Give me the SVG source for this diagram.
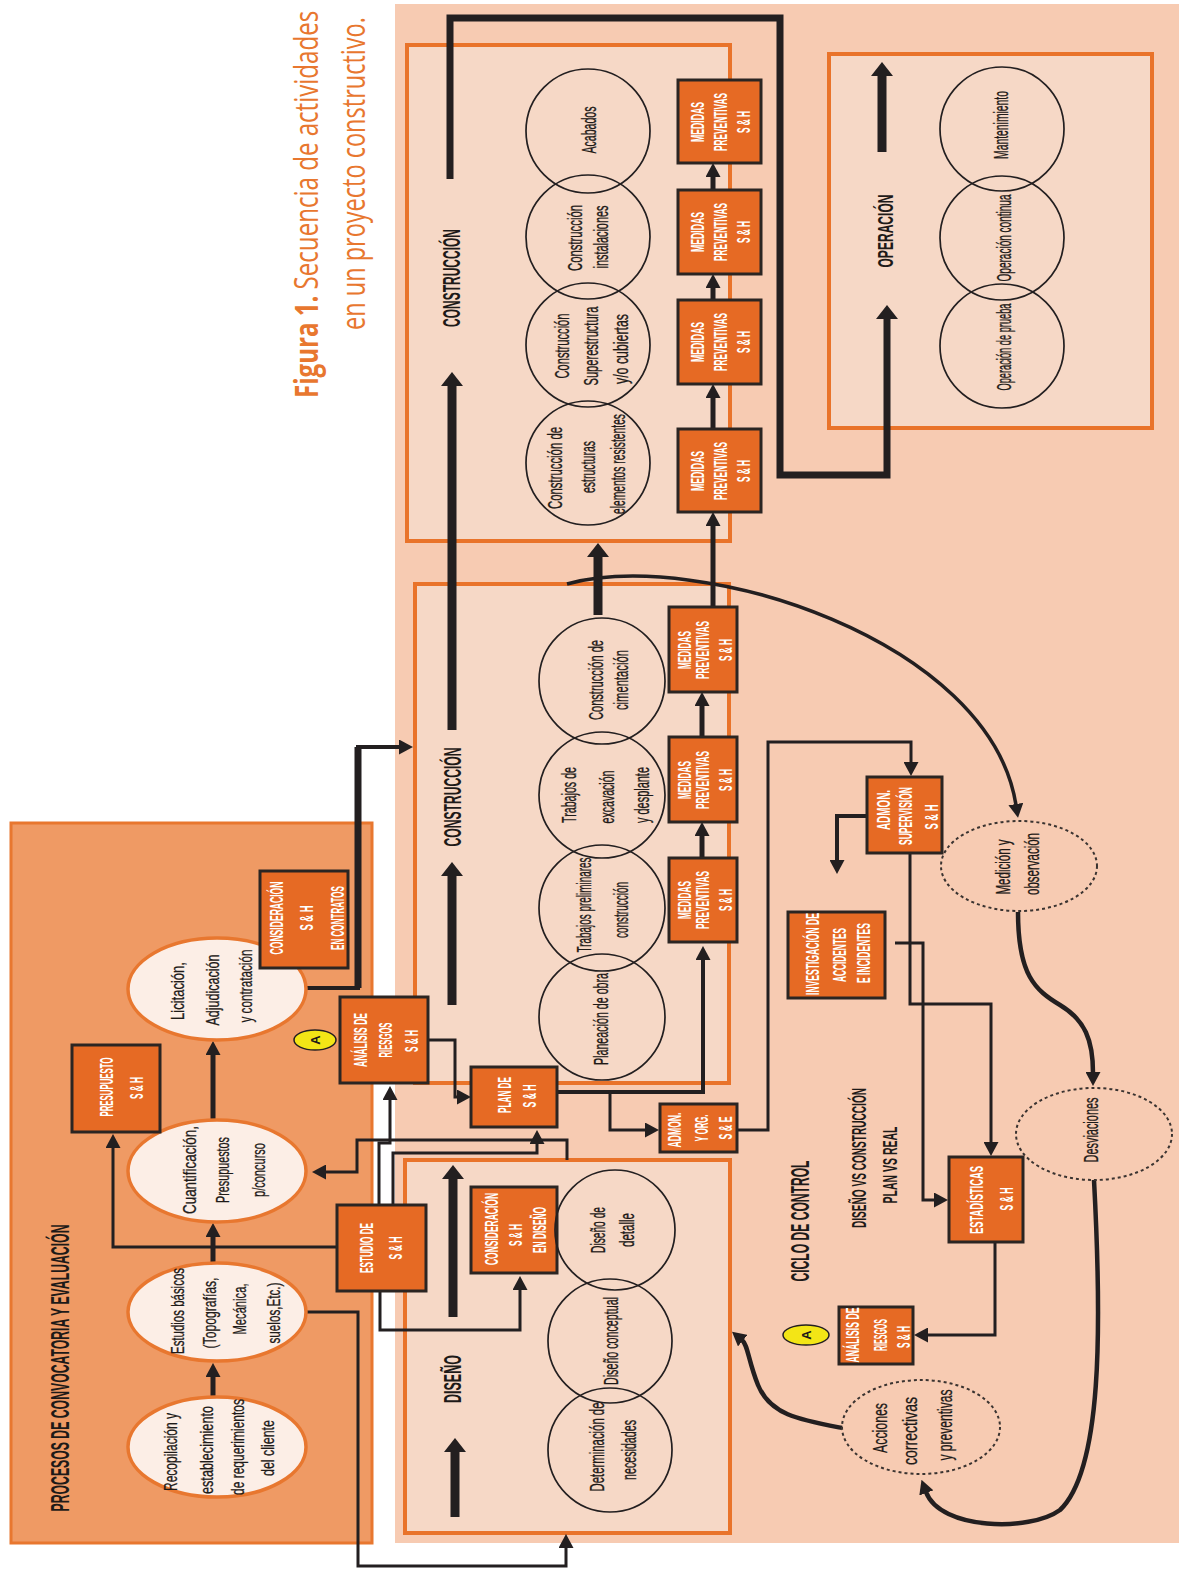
<svg xmlns="http://www.w3.org/2000/svg" width="1179" height="1569" viewBox="0 0 1179 1569">
<defs>
<style>
.bg{fill:#F7CBB2}
.lp{fill:#EF9A64;stroke:#E8772F;stroke-width:3}
.ph{fill:#F6D8C6;stroke:#E9732A;stroke-width:4}
.box{fill:#E66A24;stroke:#2B2522;stroke-width:3}
.ell{fill:#FCEEE6;stroke:#E8772F;stroke-width:3.5}
.cir{fill:none;stroke:#231F20;stroke-width:1.7}
.dsh{fill:none;stroke:#3A3330;stroke-width:2;stroke-dasharray:3 3}
.ya{fill:#F3E516;stroke:#231F20;stroke-width:1.5}
.ln{fill:none;stroke:#231F20;stroke-width:3}
.l4{fill:none;stroke:#231F20;stroke-width:4}
.lm{fill:none;stroke:#231F20;stroke-width:5}
.lt{fill:none;stroke:#231F20;stroke-width:9}
.l7{fill:none;stroke:#231F20;stroke-width:7}
.cv{fill:none;stroke:#231F20;stroke-width:4.5}
text{font-family:"Liberation Sans",Arial,sans-serif;text-anchor:middle;dominant-baseline:central}
.bt{fill:#fff;font-weight:bold;font-size:18px}
.ct{fill:#1E1A18;font-size:21px;stroke:#1E1A18;stroke-width:0.35}
.dt{fill:#1E1A18;font-size:20px;stroke:#1E1A18;stroke-width:0.3}
.et{fill:#1E1A18;font-size:19px;stroke:#1E1A18;stroke-width:0.3}
.hd{fill:#1E1A18;font-weight:bold;font-size:24px}
.at{fill:#1E1A18;font-weight:bold;font-size:13px}
.ti{fill:#E8772F;font-family:"Open Sans","Liberation Sans",sans-serif;font-size:33px;text-anchor:start;dominant-baseline:alphabetic}
</style>
<marker id="a" markerUnits="userSpaceOnUse" markerWidth="14" markerHeight="15" refX="1" refY="7.5" orient="auto"><path d="M0,0 L14,7.5 L0,15 z" fill="#231F20"/></marker>
<marker id="b" markerUnits="userSpaceOnUse" markerWidth="14" markerHeight="22" refX="1" refY="11" orient="auto"><path d="M0,0 L14,11 L0,22 z" fill="#231F20"/></marker>
</defs>

<rect class="bg" x="395" y="4" width="784" height="1539"/>

<g id="title">
<text class="ti" transform="translate(318 398) rotate(-90) scale(0.73 1)"><tspan font-weight="bold">Figura 1.</tspan> Secuencia de actividades</text>
<text class="ti" transform="translate(365 330) rotate(-90) scale(0.713 1)">en un proyecto constructivo.</text>
</g>

<g id="panel-procesos">
<rect class="lp" x="11" y="823" width="361" height="720"/>
<text class="hd" style="font-size:26px" transform="translate(60 1368) rotate(-90)" textLength="287" lengthAdjust="spacingAndGlyphs">PROCESOS DE CONVOCATORIA Y EVALUACIÓN</text>
</g>

<g id="fase-construccion-2">
<rect class="ph" x="407" y="45" width="323" height="496"/>
<text class="hd" transform="translate(451 278) rotate(-90)" textLength="98" lengthAdjust="spacingAndGlyphs">CONSTRUCCIÓN</text>
</g>
<g id="fase-construccion-1">
<rect class="ph" x="415" y="584" width="314" height="499"/>
<text class="hd" transform="translate(452 797) rotate(-90)" textLength="99" lengthAdjust="spacingAndGlyphs">CONSTRUCCIÓN</text>
</g>
<g id="fase-diseno">
<rect class="ph" x="405" y="1160" width="325" height="373"/>
<text class="hd" transform="translate(452 1379) rotate(-90)" textLength="48" lengthAdjust="spacingAndGlyphs">DISEÑO</text>
</g>
<g id="fase-operacion">
<rect class="ph" x="829" y="54" width="323" height="374"/>
<text class="hd" style="font-size:22px" transform="translate(885 231) rotate(-90)" textLength="73" lengthAdjust="spacingAndGlyphs">OPERACIÓN</text>
</g>
<g id="ciclo-control">
<text class="hd" style="font-size:25px" transform="translate(800 1221) rotate(-90)" textLength="121" lengthAdjust="spacingAndGlyphs">CICLO DE CONTROL</text>
<text class="hd" style="font-size:21px" transform="translate(858 1158) rotate(-90)" textLength="140" lengthAdjust="spacingAndGlyphs">DISEÑO VS CONSTRUCCIÓN</text>
<text class="hd" style="font-size:21px" transform="translate(889 1165) rotate(-90)" textLength="77" lengthAdjust="spacingAndGlyphs">PLAN VS REAL</text>
</g>

<g id="connectors">
<path class="ln" d="M337,1247 H113 V1147" marker-end="url(#a)"/>
<path class="ln" d="M379,1205 V1143 H390 V1099" marker-end="url(#a)"/>
<path class="ln" d="M567,1160 V1140 H357 V1172 H325" marker-end="url(#a)"/>
<path class="ln" d="M393,1205 V1153 H537 V1143" marker-end="url(#a)"/>
<path class="ln" d="M380,1291 V1330 H520 V1289" marker-end="url(#a)"/>
<path class="ln" d="M428,1040 H455 V1097 H458" marker-end="url(#a)"/>
<path class="ln" d="M307,1312 H358 V1566 H566 V1547" marker-end="url(#a)"/>
<path class="l4" d="M558,1092 H703 V959" marker-end="url(#a)"/>
<path class="ln" d="M610,1092 V1130 H646" marker-end="url(#a)"/>
<path class="ln" d="M738,1130 H768 V742 H911 V763" marker-end="url(#a)"/>
<path class="l4" d="M867,816 H837 V861" marker-end="url(#a)"/>
<path class="ln" d="M910,853 V1004 H991 V1143" marker-end="url(#a)"/>
<path class="ln" d="M895,943 H923 V1200 H935" marker-end="url(#a)"/>
<path class="ln" d="M995,1242 V1335 H927" marker-end="url(#a)"/>
<path class="l4" d="M307,988 H358 V747 H400" marker-end="url(#a)"/>
<path class="l7" d="M358,988 V747"/>
<path class="lm" d="M213,1396 V1376" marker-end="url(#a)"/>
<path class="lm" d="M213,1262 V1236" marker-end="url(#a)"/>
<path class="lm" d="M213,1120 V1054" marker-end="url(#a)"/>
<path class="lm" d="M702,858 V835" marker-end="url(#a)"/>
<path class="lm" d="M702,737 V705" marker-end="url(#a)"/>
<path class="lm" d="M713,607 V525" marker-end="url(#a)"/>
<path class="lm" d="M713,429 V397" marker-end="url(#a)"/>
<path class="lm" d="M713,300 V287" marker-end="url(#a)"/>
<path class="lm" d="M713,190 V176" marker-end="url(#a)"/>
<path class="lt" d="M455,1517 V1451" marker-end="url(#b)"/>
<path class="lt" d="M453,1317 V1178" marker-end="url(#b)"/>
<path class="lt" d="M452,1005 V875" marker-end="url(#b)"/>
<path class="lt" d="M452,730 V385" marker-end="url(#b)"/>
<path class="lt" d="M598,615 V556" marker-end="url(#b)"/>
<path class="lt" d="M882,152 V75" marker-end="url(#b)"/>
<path class="l7" d="M450,179 V18 H780 V475 H887 V318" marker-end="url(#b)"/>
<path class="cv" style="stroke-width:3.5" d="M567,584 C700,548 990,640 1016,805" marker-end="url(#a)"/>
<path class="cv" d="M1018,912 C1018,975 1035,990 1060,1005 C1085,1020 1093,1040 1093,1073" marker-end="url(#a)"/>
<path class="cv" d="M1094,1180 C1102,1330 1102,1470 1060,1510 C1030,1532 940,1530 926,1492" marker-end="url(#a)"/>
<path class="cv" d="M842,1428 C800,1420 770,1415 758,1385 C748,1360 748,1345 742,1340" marker-end="url(#a)"/>
</g>

<g id="e-recopilacion">
<ellipse class="ell" cx="217" cy="1447" rx="89" ry="50"/>
<text class="et" transform="translate(170 1452) rotate(-90)" textLength="78" lengthAdjust="spacingAndGlyphs">Recopilación y</text>
<text class="et" transform="translate(206 1450) rotate(-90)" textLength="88" lengthAdjust="spacingAndGlyphs">establecimiento</text>
<text class="et" transform="translate(237 1447) rotate(-90)" textLength="96" lengthAdjust="spacingAndGlyphs">de requerimientos</text>
<text class="et" transform="translate(267 1448) rotate(-90)" textLength="56" lengthAdjust="spacingAndGlyphs">del cliente</text>
</g>
<g id="e-estudios">
<ellipse class="ell" cx="217" cy="1312" rx="89" ry="49"/>
<text class="et" transform="translate(177 1311) rotate(-90)" textLength="86" lengthAdjust="spacingAndGlyphs">Estudios básicos</text>
<text class="et" transform="translate(209 1313) rotate(-90)" textLength="71" lengthAdjust="spacingAndGlyphs">(Topografías,</text>
<text class="et" transform="translate(239 1309) rotate(-90)" textLength="51" lengthAdjust="spacingAndGlyphs">Mecánica,</text>
<text class="et" transform="translate(273 1313) rotate(-90)" textLength="61" lengthAdjust="spacingAndGlyphs">suelos,Etc.)</text>
</g>
<g id="e-cuantificacion">
<ellipse class="ell" cx="217" cy="1171" rx="89" ry="51"/>
<text class="et" transform="translate(189 1170) rotate(-90)" textLength="88" lengthAdjust="spacingAndGlyphs">Cuantificación,</text>
<text class="et" transform="translate(222 1170) rotate(-90)" textLength="66" lengthAdjust="spacingAndGlyphs">Presupuestos</text>
<text class="et" transform="translate(258 1170) rotate(-90)" textLength="54" lengthAdjust="spacingAndGlyphs">p/concurso</text>
</g>
<g id="e-licitacion">
<ellipse class="ell" cx="217" cy="989" rx="89" ry="51"/>
<text class="et" transform="translate(177 991) rotate(-90)" textLength="58" lengthAdjust="spacingAndGlyphs">Licitación,</text>
<text class="et" transform="translate(212 990) rotate(-90)" textLength="71" lengthAdjust="spacingAndGlyphs">Adjudicación</text>
<text class="et" transform="translate(245 986) rotate(-90)" textLength="73" lengthAdjust="spacingAndGlyphs">y contratación</text>
</g>

<g id="b-presupuesto">
<rect class="box" x="72" y="1045" width="88" height="87"/>
<text class="bt" transform="translate(107 1087) rotate(-90)" textLength="59" lengthAdjust="spacingAndGlyphs">PRESUPUESTO</text>
<text class="bt" transform="translate(137 1088) rotate(-90)" textLength="22" lengthAdjust="spacingAndGlyphs">S &amp; H</text>
</g>
<g id="b-consid-contratos">
<rect class="box" x="260" y="871" width="88" height="97"/>
<text class="bt" transform="translate(277 918) rotate(-90)" textLength="73" lengthAdjust="spacingAndGlyphs">CONSIDERACIÓN</text>
<text class="bt" transform="translate(307 918) rotate(-90)" textLength="25" lengthAdjust="spacingAndGlyphs">S &amp; H</text>
<text class="bt" transform="translate(338 918) rotate(-90)" textLength="64" lengthAdjust="spacingAndGlyphs">EN CONTRATOS</text>
</g>
<g id="b-analisis-1">
<rect class="box" x="340" y="997" width="88" height="86"/>
<text class="bt" transform="translate(361 1040) rotate(-90)" textLength="54" lengthAdjust="spacingAndGlyphs">ANÁLISIS DE</text>
<text class="bt" transform="translate(386 1040) rotate(-90)" textLength="35" lengthAdjust="spacingAndGlyphs">RIESGOS</text>
<text class="bt" transform="translate(412 1041) rotate(-90)" textLength="22" lengthAdjust="spacingAndGlyphs">S &amp; H</text>
</g>
<g id="a-1">
<ellipse class="ya" cx="315" cy="1040" rx="21" ry="10"/>
<text class="at" transform="translate(315 1040) rotate(-90)">A</text>
</g>
<g id="b-estudio">
<rect class="box" x="337" y="1205" width="89" height="86"/>
<text class="bt" transform="translate(367 1248) rotate(-90)" textLength="50" lengthAdjust="spacingAndGlyphs">ESTUDIO DE</text>
<text class="bt" transform="translate(396 1248) rotate(-90)" textLength="23" lengthAdjust="spacingAndGlyphs">S &amp; H</text>
</g>
<g id="b-plan">
<rect class="box" x="471" y="1067" width="86" height="60"/>
<text class="bt" transform="translate(505 1095) rotate(-90)" textLength="36" lengthAdjust="spacingAndGlyphs">PLAN DE</text>
<text class="bt" transform="translate(530 1096) rotate(-90)" textLength="23" lengthAdjust="spacingAndGlyphs">S &amp; H</text>
</g>
<g id="b-consid-diseno">
<rect class="box" x="471" y="1187" width="86" height="86"/>
<text class="bt" transform="translate(492 1229) rotate(-90)" textLength="72" lengthAdjust="spacingAndGlyphs">CONSIDERACIÓN</text>
<text class="bt" transform="translate(516 1235) rotate(-90)" textLength="22" lengthAdjust="spacingAndGlyphs">S &amp; H</text>
<text class="bt" transform="translate(540 1230) rotate(-90)" textLength="46" lengthAdjust="spacingAndGlyphs">EN DISEÑO</text>
</g>
<g id="b-admon-org">
<rect class="box" x="660" y="1104" width="77" height="48"/>
<text class="bt" transform="translate(675 1130) rotate(-90)" textLength="35" lengthAdjust="spacingAndGlyphs">ADMON.</text>
<text class="bt" transform="translate(702 1128) rotate(-90)" textLength="27" lengthAdjust="spacingAndGlyphs">Y ORG.</text>
<text class="bt" transform="translate(726 1128) rotate(-90)" textLength="23" lengthAdjust="spacingAndGlyphs">S &amp; E</text>
</g>

<g id="m-1">
<rect class="box" x="669" y="607" width="68" height="85"/>
<text class="bt" transform="translate(685 650) rotate(-90)" textLength="38" lengthAdjust="spacingAndGlyphs">MEDIDAS</text>
<text class="bt" transform="translate(703 650) rotate(-90)" textLength="58" lengthAdjust="spacingAndGlyphs">PREVENTIVAS</text>
<text class="bt" transform="translate(726 650) rotate(-90)" textLength="22" lengthAdjust="spacingAndGlyphs">S &amp; H</text>
</g>
<g id="m-2">
<rect class="box" x="669" y="737" width="68" height="85"/>
<text class="bt" transform="translate(685 780) rotate(-90)" textLength="38" lengthAdjust="spacingAndGlyphs">MEDIDAS</text>
<text class="bt" transform="translate(703 780) rotate(-90)" textLength="58" lengthAdjust="spacingAndGlyphs">PREVENTIVAS</text>
<text class="bt" transform="translate(726 780) rotate(-90)" textLength="22" lengthAdjust="spacingAndGlyphs">S &amp; H</text>
</g>
<g id="m-3">
<rect class="box" x="669" y="858" width="68" height="84"/>
<text class="bt" transform="translate(685 900) rotate(-90)" textLength="38" lengthAdjust="spacingAndGlyphs">MEDIDAS</text>
<text class="bt" transform="translate(703 900) rotate(-90)" textLength="58" lengthAdjust="spacingAndGlyphs">PREVENTIVAS</text>
<text class="bt" transform="translate(726 900) rotate(-90)" textLength="22" lengthAdjust="spacingAndGlyphs">S &amp; H</text>
</g>
<g id="m-4">
<rect class="box" x="678" y="429" width="83" height="83"/>
<text class="bt" transform="translate(698 471) rotate(-90)" textLength="40" lengthAdjust="spacingAndGlyphs">MEDIDAS</text>
<text class="bt" transform="translate(721 471) rotate(-90)" textLength="58" lengthAdjust="spacingAndGlyphs">PREVENTIVAS</text>
<text class="bt" transform="translate(744 471) rotate(-90)" textLength="22" lengthAdjust="spacingAndGlyphs">S &amp; H</text>
</g>
<g id="m-5">
<rect class="box" x="678" y="300" width="83" height="84"/>
<text class="bt" transform="translate(698 342) rotate(-90)" textLength="40" lengthAdjust="spacingAndGlyphs">MEDIDAS</text>
<text class="bt" transform="translate(721 342) rotate(-90)" textLength="58" lengthAdjust="spacingAndGlyphs">PREVENTIVAS</text>
<text class="bt" transform="translate(744 342) rotate(-90)" textLength="22" lengthAdjust="spacingAndGlyphs">S &amp; H</text>
</g>
<g id="m-6">
<rect class="box" x="678" y="190" width="83" height="84"/>
<text class="bt" transform="translate(698 232) rotate(-90)" textLength="40" lengthAdjust="spacingAndGlyphs">MEDIDAS</text>
<text class="bt" transform="translate(721 232) rotate(-90)" textLength="58" lengthAdjust="spacingAndGlyphs">PREVENTIVAS</text>
<text class="bt" transform="translate(744 232) rotate(-90)" textLength="22" lengthAdjust="spacingAndGlyphs">S &amp; H</text>
</g>
<g id="m-7">
<rect class="box" x="678" y="80" width="83" height="83"/>
<text class="bt" transform="translate(698 122) rotate(-90)" textLength="40" lengthAdjust="spacingAndGlyphs">MEDIDAS</text>
<text class="bt" transform="translate(721 122) rotate(-90)" textLength="58" lengthAdjust="spacingAndGlyphs">PREVENTIVAS</text>
<text class="bt" transform="translate(744 122) rotate(-90)" textLength="22" lengthAdjust="spacingAndGlyphs">S &amp; H</text>
</g>

<g id="c-cimentacion">
<circle class="cir" cx="602" cy="681" r="63"/>
<text class="ct" transform="translate(595 680) rotate(-90)" textLength="80" lengthAdjust="spacingAndGlyphs">Construcción de</text>
<text class="ct" transform="translate(620 680) rotate(-90)" textLength="60" lengthAdjust="spacingAndGlyphs">cimentación</text>
</g>
<g id="c-excavacion">
<circle class="cir" cx="602" cy="795" r="63"/>
<text class="ct" transform="translate(568 795) rotate(-90)" textLength="56" lengthAdjust="spacingAndGlyphs">Trabajos de</text>
<text class="ct" transform="translate(606 797) rotate(-90)" textLength="53" lengthAdjust="spacingAndGlyphs">excavación</text>
<text class="ct" transform="translate(641 795) rotate(-90)" textLength="56" lengthAdjust="spacingAndGlyphs">y desplante</text>
</g>
<g id="c-preliminares">
<circle class="cir" cx="602" cy="908" r="63"/>
<text class="ct" transform="translate(583 905) rotate(-90)" textLength="95" lengthAdjust="spacingAndGlyphs">Trabajos preliminares</text>
<text class="ct" transform="translate(620 910) rotate(-90)" textLength="56" lengthAdjust="spacingAndGlyphs">construcción</text>
</g>
<g id="c-planeacion">
<circle class="cir" cx="602" cy="1017" r="63"/>
<text class="ct" transform="translate(600 1019) rotate(-90)" textLength="92" lengthAdjust="spacingAndGlyphs">Planeación de obra</text>
</g>
<g id="c-acabados">
<circle class="cir" cx="588" cy="131" r="62"/>
<text class="ct" transform="translate(588 130) rotate(-90)" textLength="47" lengthAdjust="spacingAndGlyphs">Acabados</text>
</g>
<g id="c-instalaciones">
<circle class="cir" cx="588" cy="237" r="62"/>
<text class="ct" transform="translate(574 238) rotate(-90)" textLength="66" lengthAdjust="spacingAndGlyphs">Construcción</text>
<text class="ct" transform="translate(600 237) rotate(-90)" textLength="63" lengthAdjust="spacingAndGlyphs">instalaciones</text>
</g>
<g id="c-superestructura">
<circle class="cir" cx="588" cy="345" r="62"/>
<text class="ct" transform="translate(561 346) rotate(-90)" textLength="65" lengthAdjust="spacingAndGlyphs">Construcción</text>
<text class="ct" transform="translate(590 346) rotate(-90)" textLength="79" lengthAdjust="spacingAndGlyphs">Superestructura</text>
<text class="ct" transform="translate(620 349) rotate(-90)" textLength="70" lengthAdjust="spacingAndGlyphs">y/o cubiertas</text>
</g>
<g id="c-estructuras">
<circle class="cir" cx="588" cy="463" r="62"/>
<text class="ct" transform="translate(554 468) rotate(-90)" textLength="82" lengthAdjust="spacingAndGlyphs">Construcción de</text>
<text class="ct" transform="translate(587 467) rotate(-90)" textLength="52" lengthAdjust="spacingAndGlyphs">estructuras</text>
<text class="ct" transform="translate(617 464) rotate(-90)" textLength="100" lengthAdjust="spacingAndGlyphs">elementos resistentes</text>
</g>
<g id="c-mantenimiento">
<circle class="cir" cx="1002" cy="129" r="62"/>
<text class="ct" transform="translate(1000 125) rotate(-90)" textLength="68" lengthAdjust="spacingAndGlyphs">Mantenimiento</text>
</g>
<g id="c-continua">
<circle class="cir" cx="1002" cy="238" r="62"/>
<text class="ct" transform="translate(1003 238) rotate(-90)" textLength="87" lengthAdjust="spacingAndGlyphs">Operación continua</text>
</g>
<g id="c-prueba">
<circle class="cir" cx="1002" cy="346" r="62"/>
<text class="ct" transform="translate(1003 347) rotate(-90)" textLength="87" lengthAdjust="spacingAndGlyphs">Operación de prueba</text>
</g>
<g id="c-detalle">
<circle class="cir" cx="615" cy="1230" r="60"/>
<text class="ct" transform="translate(597 1230) rotate(-90)" textLength="46" lengthAdjust="spacingAndGlyphs">Diseño de</text>
<text class="ct" transform="translate(626 1230) rotate(-90)" textLength="34" lengthAdjust="spacingAndGlyphs">detalle</text>
</g>
<g id="c-conceptual">
<circle class="cir" cx="610" cy="1341" r="62"/>
<text class="ct" transform="translate(610 1341) rotate(-90)" textLength="88" lengthAdjust="spacingAndGlyphs">Diseño conceptual</text>
</g>
<g id="c-necesidades">
<circle class="cir" cx="610" cy="1450" r="62"/>
<text class="ct" transform="translate(596 1447) rotate(-90)" textLength="89" lengthAdjust="spacingAndGlyphs">Determinación de</text>
<text class="ct" transform="translate(628 1450) rotate(-90)" textLength="60" lengthAdjust="spacingAndGlyphs">necesidades</text>
</g>

<g id="d-medicion">
<ellipse class="dsh" cx="1019" cy="866" rx="78" ry="45"/>
<text class="dt" transform="translate(1003 867) rotate(-90)" textLength="55" lengthAdjust="spacingAndGlyphs">Medición y</text>
<text class="dt" transform="translate(1032 864) rotate(-90)" textLength="62" lengthAdjust="spacingAndGlyphs">observación</text>
</g>
<g id="d-desviaciones">
<ellipse class="dsh" cx="1094" cy="1134" rx="78" ry="46"/>
<text class="dt" transform="translate(1091 1130) rotate(-90)" textLength="65" lengthAdjust="spacingAndGlyphs">Desviaciones</text>
</g>
<g id="d-acciones">
<ellipse class="dsh" cx="921" cy="1427" rx="79" ry="47"/>
<text class="dt" transform="translate(880 1428) rotate(-90)" textLength="50" lengthAdjust="spacingAndGlyphs">Acciones</text>
<text class="dt" transform="translate(910 1431) rotate(-90)" textLength="68" lengthAdjust="spacingAndGlyphs">correctivas</text>
<text class="dt" transform="translate(945 1425) rotate(-90)" textLength="71" lengthAdjust="spacingAndGlyphs">y preventivas</text>
</g>

<g id="b-admon-sup">
<rect class="box" x="867" y="777" width="75" height="76"/>
<text class="bt" transform="translate(884 810) rotate(-90)" textLength="40" lengthAdjust="spacingAndGlyphs">ADMON.</text>
<text class="bt" transform="translate(906 816) rotate(-90)" textLength="58" lengthAdjust="spacingAndGlyphs">SUPERVISIÓN</text>
<text class="bt" transform="translate(932 817) rotate(-90)" textLength="25" lengthAdjust="spacingAndGlyphs">S &amp; H</text>
</g>
<g id="b-investigacion">
<rect class="box" x="788" y="912" width="97" height="86"/>
<text class="bt" transform="translate(813 954) rotate(-90)" textLength="82" lengthAdjust="spacingAndGlyphs">INVESTIGACIÓN DE</text>
<text class="bt" transform="translate(840 955) rotate(-90)" textLength="54" lengthAdjust="spacingAndGlyphs">ACCIDENTES</text>
<text class="bt" transform="translate(864 953) rotate(-90)" textLength="60" lengthAdjust="spacingAndGlyphs">E INCIDENTES</text>
</g>
<g id="b-estadisticas">
<rect class="box" x="949" y="1157" width="74" height="85"/>
<text class="bt" transform="translate(977 1200) rotate(-90)" textLength="68" lengthAdjust="spacingAndGlyphs">ESTADÍSTICAS</text>
<text class="bt" transform="translate(1007 1199) rotate(-90)" textLength="23" lengthAdjust="spacingAndGlyphs">S &amp; H</text>
</g>
<g id="b-analisis-2">
<rect class="box" x="839" y="1307" width="74" height="57"/>
<text class="bt" transform="translate(853 1335) rotate(-90)" textLength="55" lengthAdjust="spacingAndGlyphs">ANÁLISIS DE</text>
<text class="bt" transform="translate(881 1335) rotate(-90)" textLength="32" lengthAdjust="spacingAndGlyphs">RIESGOS</text>
<text class="bt" transform="translate(904 1337) rotate(-90)" textLength="22" lengthAdjust="spacingAndGlyphs">S &amp; H</text>
</g>
<g id="a-2">
<ellipse class="ya" cx="806" cy="1335" rx="23" ry="10"/>
<text class="at" transform="translate(806 1335) rotate(-90)">A</text>
</g>
</svg>
